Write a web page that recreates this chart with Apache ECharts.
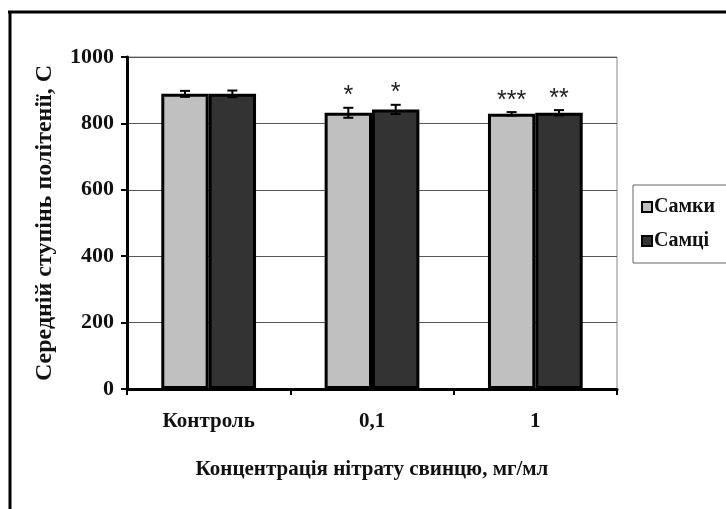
<!DOCTYPE html>
<html>
<head>
<meta charset="utf-8">
<script src="https://cdn.jsdelivr.net/npm/echarts@6/dist/echarts.min.js"></script>
<style>
  html, body { margin: 0; padding: 0; background: #fff; }
  #chart { width: 726px; height: 509px; }
</style>
</head>
<body>
<div id="chart"></div>
<script>
const categories = ['Контроль', '0,1', '1'];
const femaleValues = [889, 832, 829];
const maleValues = [889, 842, 832];
const femaleErrors = [9, 15, 5];
const maleErrors = [10, 14, 8];
const femaleStars = ['', '*', '***'];
const maleStars = ['', '*', '**'];
const yTicks = [0, 200, 400, 600, 800, 1000];

const serif = '"Liberation Serif", "DejaVu Serif", serif';
const barFrac = 0.29;

const boldText = {
  fontFamily: serif,
  fontWeight: 'bold',
  fontSize: 21,
  color: '#111'
};

// error bar + significance stars drawn over each bar
const errorSeries = (name, values, errors, stars, side) => ({
  name: name + '_err',
  type: 'custom',
  z: 10,
  silent: true,
  data: values.map((v, i) => [i, v, errors[i]]),
  renderItem: function (params, api) {
    const idx = api.value(0);
    const band = api.size([1, 0])[0];
    const off = side * band * barFrac / 2;
    const top = api.coord([idx, api.value(1) + api.value(2)]);
    const bot = api.coord([idx, api.value(1) - api.value(2)]);
    const x = top[0] + off;
    const cap = 5;
    const st = { stroke: '#000', lineWidth: 2 };
    const children = [
      { type: 'line', shape: { x1: x, y1: top[1], x2: x, y2: bot[1] }, style: st },
      { type: 'line', shape: { x1: x - cap, y1: top[1], x2: x + cap, y2: top[1] }, style: st },
      { type: 'line', shape: { x1: x - cap, y1: bot[1], x2: x + cap, y2: bot[1] }, style: st }
    ];
    const s = stars[params.dataIndex];
    if (s) {
      children.push({
        type: 'text',
        style: {
          text: s,
          x: x,
          y: top[1] + 1,
          align: 'center',
          verticalAlign: 'bottom',
          font: '25px "Liberation Sans", Arial, sans-serif',
          fill: '#222'
        }
      });
    }
    return { type: 'group', children: children };
  }
});

const chart = echarts.init(document.getElementById('chart'));
chart.setOption({
  animation: false,
  backgroundColor: '#fff',
  grid: {
    left: 127,
    right: 109,
    top: 57,
    bottom: 120,
    show: true,
    borderColor: '#888',
    borderWidth: 1,
    backgroundColor: '#fff'
  },
  legend: {
    orient: 'vertical',
    left: 633,
    top: 185,
    data: ['Самки', 'Самці'],
    itemWidth: 10,
    itemHeight: 10,
    itemGap: 14,
    padding: [12, 20, 12, 8],
    borderColor: '#666',
    borderWidth: 1,
    icon: 'rect',
    itemStyle: { borderColor: '#000', borderWidth: 2 },
    textStyle: { ...boldText, fontSize: 20, padding: [0, 0, 0, -3] }
  },
  xAxis: {
    type: 'category',
    data: categories,
    name: 'Концентрація нітрату свинцю, мг/мл',
    nameLocation: 'middle',
    nameGap: 70,
    nameTextStyle: boldText,
    axisLine: { lineStyle: { color: '#000', width: 3 } },
    axisTick: { show: true, length: 6, lineStyle: { color: '#000', width: 2 } },
    axisLabel: { ...boldText, margin: 22 }
  },
  yAxis: {
    type: 'value',
    min: yTicks[0],
    max: yTicks[yTicks.length - 1],
    interval: 200,
    name: 'Середній ступінь політенії, С',
    nameLocation: 'middle',
    nameGap: 70,
    nameTextStyle: { ...boldText, fontSize: 24 },
    axisLine: { show: true, lineStyle: { color: '#000', width: 3 } },
    axisTick: { show: true, length: 6, lineStyle: { color: '#000', width: 2 } },
    axisLabel: { ...boldText, fontSize: 22, margin: 13, formatter: (v) => String(v) },
    splitLine: { lineStyle: { color: '#555', width: 1 } }
  },
  series: [
    {
      name: 'Самки',
      type: 'bar',
      data: femaleValues,
      barWidth: (barFrac * 100) + '%',
      barGap: '0%',
      itemStyle: { color: '#c0c0c0', borderColor: '#000', borderWidth: 3 }
    },
    {
      name: 'Самці',
      type: 'bar',
      data: maleValues,
      barWidth: (barFrac * 100) + '%',
      barGap: '0%',
      itemStyle: { color: '#333333', borderColor: '#000', borderWidth: 3 }
    },
    errorSeries('Самки', femaleValues, femaleErrors, femaleStars, -1),
    errorSeries('Самці', maleValues, maleErrors, maleStars, 1)
  ],
  graphic: [
    { type: 'line', shape: { x1: 8, y1: 12, x2: 726, y2: 12 }, style: { stroke: '#000', lineWidth: 3 } },
    { type: 'line', shape: { x1: 10, y1: 11, x2: 10, y2: 509 }, style: { stroke: '#000', lineWidth: 3 } }
  ]
});
</script>
</body>
</html>
